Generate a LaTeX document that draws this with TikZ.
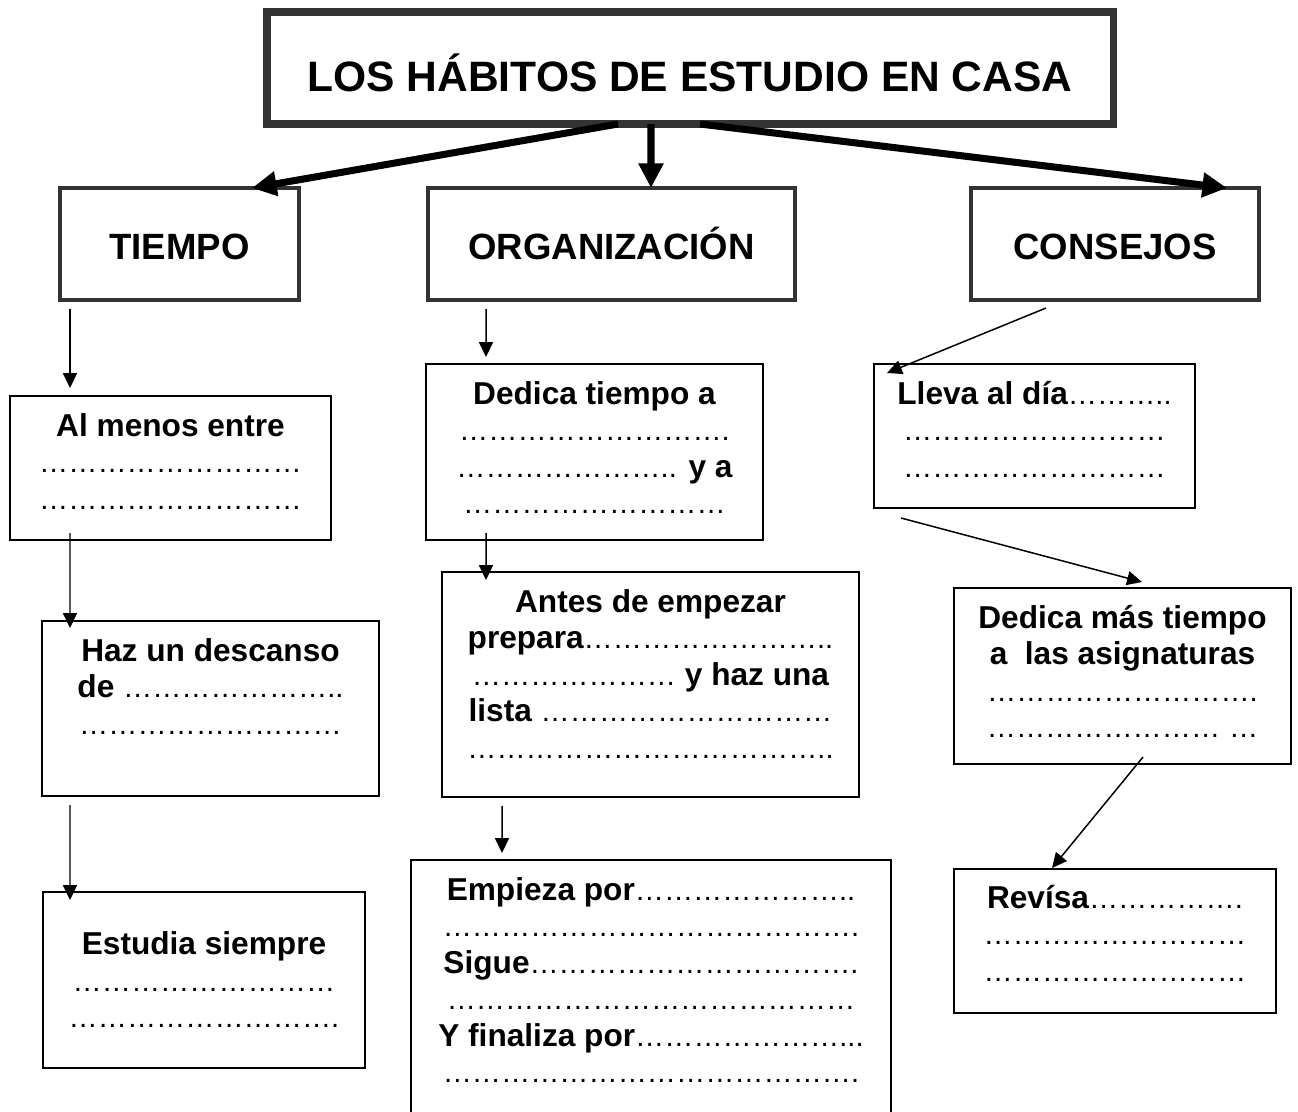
\documentclass[tikz,border=0pt]{standalone}
\usepackage{fontspec}
\setmainfont{Liberation Sans}
\usetikzlibrary{positioning,arrows.meta}
\definecolor{gris}{RGB}{51,51,51}
% linea de puntos: n elipsis y puntos sueltos opcionales
\newcommand{\puntos}[2][]{{\mdseries\fontsize{16.6}{20.8}\selectfont\foreach \i in {1,...,#2}{…}#1}}

\begin{document}
\begin{tikzpicture}
        \tikzstyle{titulo} = [rectangle, draw=gris, line width=4pt, outer sep=0pt, minimum width=16.92cm, minimum height=2.24cm, text height=27.2pt, text depth=0pt, font=\bfseries\fontsize{24.2}{29}\selectfont]
        \tikzstyle{tema} = [rectangle, draw=gris, line width=2.8pt, outer sep=0pt, minimum height=2.24cm, anchor=north west, text height=18.1pt, text depth=0pt, font=\bfseries\fontsize{20.8}{25}\selectfont]
        \tikzstyle{caja} = [rectangle, draw=black, line width=1pt, outer sep=0pt, anchor=north west]
        \tikzstyle{texto} = [align=center, inner sep=0pt, font=\bfseries\fontsize{18}{20.8}\selectfont]
        \tikzstyle{gruesa} = [line width=4pt, -{Triangle[length=14pt, width=13.5pt]}]
        \tikzstyle{arrow} = [line width=0.85pt, -{Triangle[length=8.5pt, width=8pt]}]
        \useasboundingbox (0,0) rectangle (25.96,-22.22);
        \node (titulo) [titulo] at (13.8, -1.36) {LOS HÁBITOS DE ESTUDIO EN CASA};
        \node (tiempo) [tema, minimum width=4.78cm] at (1.2, -3.76) {TIEMPO};
        \node (org) [tema, minimum width=7.34cm] at (8.56, -3.76) {ORGANIZACIÓN};
        \node (consejos) [tema, minimum width=5.76cm] at (19.42, -3.76) {CONSEJOS};
        % tiempo
        \node (almenos) [caja, minimum width=6.42cm, minimum height=2.88cm] at (0.2, -7.92) {};
        \node (haz) [caja, minimum width=6.74cm, minimum height=3.5cm] at (0.84, -12.42) {};
        \node (estudia) [caja, minimum width=6.44cm, minimum height=3.52cm] at (0.86, -17.84) {};
        \node (talmenos) [texto, below=8pt of almenos.north] {\strut Al menos entre\\ \puntos{9}\\ \puntos{9}};
        \node (thaz) [texto, below=8pt of haz.north] {\strut Haz un descanso\\ de \puntos[..]{7}\\ \puntos{9}};
        \node (testudia) [texto, below=21pt of estudia.north] {\strut Estudia siempre\\ \puntos{9}\\ \puntos[.]{9}};
        % organizacion
        \node (dedica) [caja, minimum width=6.74cm, minimum height=3.52cm] at (8.52, -7.28) {};
        \node (antes) [caja, minimum width=8.34cm, minimum height=4.5cm] at (8.84, -11.44) {};
        \node (empieza) [caja, minimum width=9.6cm, minimum height=5.4cm] at (8.22, -17.2) {};
        \node (tdedica) [texto, below=8pt of dedica.north] {\strut Dedica tiempo a\\ \puntos[.]{9}\\ \puntos[..]{7} y a\\ \puntos{9}};
        \node (tantes) [texto, below=8pt of antes.north] {\strut Antes de empezar\\ prepara\puntos[..]{8}\\ \puntos{7} y haz una\\ lista \puntos{10}\\ \puntos[..]{12}};
        \node (tempieza) [texto, below=8pt of empieza.north] {\strut Empieza por\puntos[..]{7}\\ \puntos[.]{14}\\ Sigue\puntos[.]{11}\\ \puntos{14}\\ Y finaliza por\puntos[...]{7}\\ \puntos[.]{14}};
        % consejos
        \node (lleva) [caja, minimum width=6.42cm, minimum height=2.88cm] at (17.48, -7.28) {};
        \node (dedmas) [caja, minimum width=6.74cm, minimum height=3.52cm] at (19.08, -11.76) {};
        \node (revisa) [caja, minimum width=6.44cm, minimum height=2.88cm] at (19.08, -17.38) {};
        \node (tlleva) [texto, below=8pt of lleva.north] {\strut Lleva al día\puntos[..]{3}\\ \puntos{9}\\ \puntos{9}};
        \node (tdedmas) [texto, below=8pt of dedmas.north] {\strut Dedica más tiempo\\ a\ \ las asignaturas\\ \puntos[.]{9}\\ \puntos{8} \puntos{1}};
        \node (trevisa) [texto, below=7.5pt of revisa.north] {\strut Revísa\puntos[.]{5}\\ \puntos{9}\\ \puntos{9}};
        % flechas
        \draw[gruesa] ([xshift=7.02cm]titulo.south west) to ([xshift=3.84cm]tiempo.north west);
        \draw[gruesa] ([xshift=7.68cm]titulo.south west) to ([xshift=4.46cm]org.north west);
        \draw[gruesa] ([xshift=8.66cm]titulo.south west) to ([xshift=5.12cm]consejos.north west);
        \draw[arrow] ([shift={(0.2,-0.18)}]tiempo.south west) to ([shift={(1.2,0.16)}]almenos.north west);
        \draw[arrow] ([shift={(1.2,0.14)}]almenos.south west) to ([shift={(0.56,-0.14)}]haz.north west);
        \draw[arrow] ([shift={(0.56,-0.18)}]haz.south west) to ([shift={(0.54,-0.16)}]estudia.north west);
        \draw[arrow] ([shift={(1.16,-0.18)}]org.south west) to ([shift={(1.2,0.14)}]dedica.north west);
        \draw[arrow] ([shift={(1.2,0.14)}]dedica.south west) to ([shift={(0.88,-0.16)}]antes.north west);
        \draw[arrow] ([shift={(1.2,-0.18)}]antes.south west) to ([shift={(1.82,0.14)}]empieza.north west);
        \draw[arrow] ([shift={(1.5,-0.16)}]consejos.south west) to ([shift={(0.26,-0.18)}]lleva.north west);
        \draw[arrow] ([shift={(0.54,-0.2)}]lleva.south west) to ([shift={(3.76,0.12)}]dedmas.north west);
        \draw[arrow] ([shift={(3.78,0.14)}]dedmas.south west) to ([shift={(1.96,0.02)}]revisa.north west);
    \end{tikzpicture}
\end{document}
